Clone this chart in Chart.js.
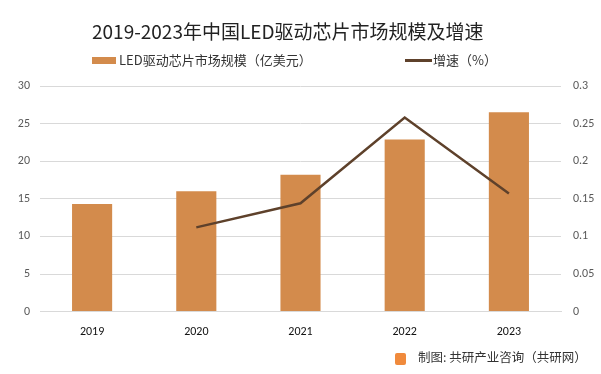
<!DOCTYPE html>
<html>
<head>
<meta charset="utf-8">
<script src="https://cdn.jsdelivr.net/npm/chart.js@4"></script>
<style>
  body { margin: 0; background: #fff; font-family: "Noto Sans CJK SC", "Noto Sans", sans-serif; }
  #wrap { position: relative; width: 601px; height: 374px; }
  #title { position: absolute; left: 92px; top: 17px; font-size: 19px; line-height: 28px; color: #222; white-space: nowrap; }
  .lg { position: absolute; top: 50px; font-size: 13px; line-height: 20px; color: #333; white-space: nowrap; }
  .sw { display: inline-block; vertical-align: middle; margin-right: 3px; position: relative; top: -1px; }
  #footer { position: absolute; left: 418px; top: 348px; font-size: 12.5px; line-height: 18px; color: #333; white-space: nowrap; }
  #logo { position: absolute; left: 395px; top: 353px; width: 11px; height: 12px; background: #f08a3c; border-radius: 2px; }
</style>
</head>
<body>
<div id="wrap">
  <canvas id="chart" width="601" height="374"></canvas>
  <div id="title">2019-2023年中国LED驱动芯片市场规模及增速</div>
  <div class="lg" style="left:92px"><span class="sw" style="width:24px;height:7px;background:#D38B4C"></span>LED驱动芯片市场规模（亿美元）</div>
  <div class="lg" style="left:405px"><span class="sw" style="width:27px;height:3px;background:#5E412B;margin-right:1px"></span>增速（%）</div>
  <div id="logo"></div>
  <div id="footer">制图: 共研产业咨询（共研网）</div>
</div>
<script>
// 数据
const years = ['2019', '2020', '2021', '2022', '2023'];
const marketSize = [14.3, 16.0, 18.2, 22.9, 26.5];
const growthRate = [null, 0.112, 0.144, 0.258, 0.157];
const leftTicks = [0, 5, 10, 15, 20, 25, 30];
const rightTicks = [0, 0.05, 0.1, 0.15, 0.2, 0.25, 0.3];

const tickFont = { family: 'Calibri, Carlito, "Liberation Sans", sans-serif', size: 12 };

new Chart(document.getElementById('chart').getContext('2d'), {
  type: 'bar',
  data: {
    labels: years,
    datasets: [
      {
        type: 'line',
        label: '增速（%）',
        data: growthRate,
        yAxisID: 'y1',
        borderColor: '#5E412B',
        borderWidth: 2.5,
        pointRadius: 0,
        tension: 0,
      },
      {
        label: 'LED驱动芯片市场规模（亿美元）',
        data: marketSize,
        yAxisID: 'y',
        backgroundColor: '#D38B4C',
        categoryPercentage: 1,
        barPercentage: 0.385,
      },
    ],
  },
  options: {
    responsive: false,
    animation: false,
    layout: { padding: { top: 86, bottom: 30, left: 0, right: 0 } },
    plugins: { legend: { display: false }, tooltip: { enabled: false } },
    scales: {
      x: {
        grid: { display: false },
        border: { color: '#d9d9d9' },
        ticks: { color: '#111', font: tickFont, padding: 5 },
      },
      y: {
        position: 'left',
        min: 0, max: 30,
        afterBuildTicks: s => { s.ticks = leftTicks.map(v => ({ value: v })); },
        afterFit: s => { s.width = 40; },
        grid: { color: '#d9d9d9', drawTicks: false },
        border: { display: false },
        ticks: { color: '#595959', font: tickFont, padding: 10 },
      },
      y1: {
        position: 'right',
        min: 0, max: 0.3,
        afterBuildTicks: s => { s.ticks = rightTicks.map(v => ({ value: v })); },
        afterFit: s => { s.width = 40; },
        grid: { display: false, drawTicks: false },
        border: { display: false },
        ticks: { color: '#595959', font: tickFont, padding: 12, callback: v => String(+v.toFixed(2)) },
      },
    },
  },
});
</script>
</body>
</html>
